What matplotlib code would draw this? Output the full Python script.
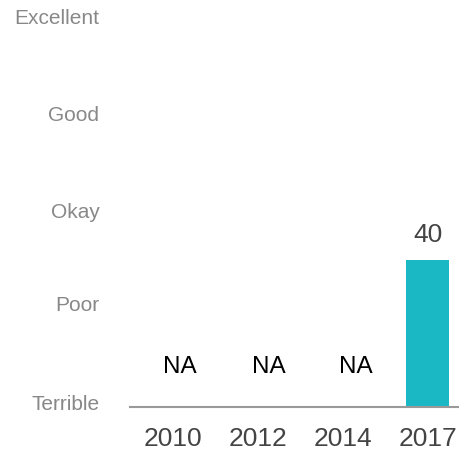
import matplotlib
matplotlib.use("Agg")
import matplotlib.pyplot as plt

years = ["2010", "2012", "2014", "2017"]
scores = [None, None, None, 40]
rating_labels = ["Terrible", "Poor", "Okay", "Good", "Excellent"]
rating_positions = [1.2, 28.2, 53.6, 79.8, 106.2]
na_text = "NA"

plt.rcParams['font.family'] = ['Liberation Sans', 'DejaVu Sans']

fig = plt.figure(figsize=(4.59, 4.53), dpi=100)
ax = fig.add_axes([130/459, 46/453, 329/459, 404/453])

x = list(range(len(years)))
na_offsets = [0.08, 0.13, 0.15]
for i, v in enumerate(scores):
    if v is None:
        ax.text(i + na_offsets[i], 11, na_text, ha='center', va='center',
                fontsize=17.5, color='black')
    else:
        ax.bar(i, v, width=0.506, color='#1AB7C5')
        ax.text(i, v + 6.8, str(v), ha='center', va='center',
                fontsize=19, color='#444444')

ax.set_xlim(-0.506, 3.365)
ax.set_ylim(0, 110)
ax.set_xticks(x)
ax.set_xticklabels(years, fontsize=19, color='#444444')
ax.set_yticks(rating_positions)
ax.set_yticklabels(rating_labels, fontsize=15, color='#888888')
ax.tick_params(axis='both', length=0)
ax.tick_params(axis='x', pad=14.5)
ax.tick_params(axis='y', pad=22)
for s in ['top', 'right', 'left']:
    ax.spines[s].set_visible(False)
ax.spines['bottom'].set_color('#999999')
ax.spines['bottom'].set_linewidth(1.5)

fig.savefig("out.png", dpi=100)
